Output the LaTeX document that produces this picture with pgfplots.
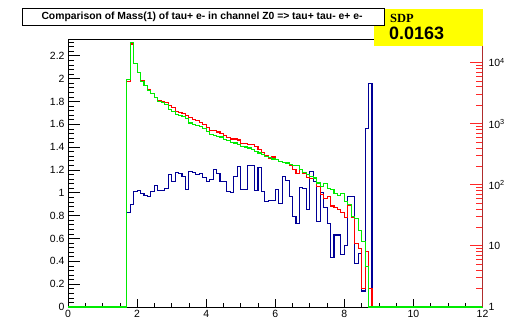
\documentclass[border=0pt]{standalone}
\usepackage{fontspec}
\setmainfont{Liberation Sans}
\newfontfamily\serifb{Liberation Serif}
\usepackage{pgfplots}
\pgfplotsset{compat=1.18}
\usepackage{pgfplotstable}

\definecolor{hred}{RGB}{255,0,0}
\definecolor{hgreen}{RGB}{0,235,0}
\definecolor{hblue}{RGB}{0,0,150}
\definecolor{axred}{RGB}{175,45,45}
\definecolor{tickred}{RGB}{255,40,40}
\definecolor{sdpyellow}{RGB}{255,255,0}

\pgfplotstableread{
x red green
0 1 1
1.7 4885 5260
1.8 20100 21500
1.9 9500 9630
2.0 6860 6780
2.1 5070 4940
2.2 4200 4200
2.3 3610 3515
2.4 3160 3100
2.5 2720 2640
2.6 2430 2320
2.7 2295 2235
2.8 2210 2050
2.9 1973 1700
3.0 1830 1590
3.1 1573 1405
3.2 1515 1352
3.3 1459 1288
3.4 1352 1194
3.5 1254 1026
3.6 1163 963
3.7 1120 927
3.8 1038 883
3.9 981 819
4.0 850 748
4.1 780 660
4.2 768 636
4.3 730 619
4.4 690 605
4.5 650 547
4.6 590 532
4.7 560 494
4.8 560 483
4.9 540 453
5.0 470 425
5.1 470 415
5.2 460 400
5.3 455 375
5.4 420 352
5.5 382 331
5.6 335 310
5.7 300 291
5.8 270 277
5.9 285 264
6.0 262 257
6.1 240 243
6.2 234 232
6.3 225 227
6.4 205 217
6.5 175 209
6.6 151 205
6.7 176 176
6.8 155 157
6.9 130 146
7.0 128 135
7.1 125 129
7.2 95 107
7.3 70 94
7.4 60 104
7.5 64 88
7.6 45 83
7.7 43 73
7.8 40 66
7.9 35 71
8.0 29 53
8.1 46 47
8.2 29 30
8.3 11 28
8.4 9 18
8.5 2 11.6
8.6 8 4.6
8.7 2 1
8.8 1 1
12 1 1
}\rgdata

\pgfplotstableread{
x blue
1.7 0
1.7 0.83
1.8 0.90
1.9 1.01
2.0 1.02
2.1 0.99
2.2 0.98
2.3 0.97
2.4 1.01
2.5 1.06
2.6 1.02
2.7 1.02
2.8 1.04
2.9 1.16
3.0 1.10
3.1 1.18
3.2 1.17
3.3 1.14
3.4 1.03
3.5 1.19
3.6 1.18
3.7 1.16
3.8 1.17
3.9 1.13
4.0 1.10
4.1 1.12
4.2 1.20
4.3 1.17
4.4 1.10
4.5 1.10
4.6 1.01
4.7 1.00
4.8 1.14
4.9 1.23
5.0 1.03
5.1 1.03
5.2 1.24
5.3 1.24
5.4 1.02
5.5 1.22
5.6 1.01
5.7 0.92
5.8 0.93
5.9 0.93
6.0 1.03
6.1 0.91
6.2 1.14
6.3 1.11
6.4 0.97
6.5 0.79
6.6 0.73
6.7 1.05
6.8 1.04
6.9 0.85
7.0 1.19
7.1 1.10
7.2 0.75
7.3 1.00
7.4 0.87
7.5 0.73
7.6 0.43
7.7 0.63
7.8 0.63
7.9 0.46
8.0 0.54
8.1 0.97
8.2 0.97
8.3 0.38
8.4 0.47
8.5 0.14
8.6 1.56
8.7 1.96
8.8 0
}\bdata

\pgfplotsset{
  rootframe/.style={
    at={(0,0)}, anchor=south west, scale only axis,
    width=414.5bp, height=267.5bp,
    xmin=0, xmax=12,
    axis line style={line width=0.8bp},
    tick label style={font=\fontsize{10.5}{12}\selectfont},
    every tick/.style={black, line width=0.6bp},
  },
}

\begin{document}
\begin{tikzpicture}
\path[use as bounding box] (-68bp,-14bp) rectangle (445bp,307bp);

% x axis
\begin{axis}[rootframe,
  ymin=0, ymax=2.342,
  xtick={0,2,4,6,8,10,12},
  xticklabels={0,2,4,6,8,10,12},
  minor xtick={0.5,1,1.5,2.5,3,3.5,4.5,5,5.5,6.5,7,7.5,8.5,9,9.5,10.5,11,11.5},
  xtick pos=bottom,
  ytick=\empty,
  major tick length=8bp, minor tick length=4bp]
\end{axis}

% left linear axis with blue histogram
\begin{axis}[rootframe,
  ymin=0, ymax=2.342,
  xtick=\empty,
  ytick={0,0.2,0.4,0.6,0.8,1,1.2,1.4,1.6,1.8,2,2.2},
  yticklabels={0,0.2,0.4,0.6,0.8,1,1.2,1.4,1.6,1.8,2,2.2},
  minor ytick={0.04,0.08,...,2.33},
  ytick pos=left,
  major tick length=12.4bp, minor tick length=6.2bp,
  clip=false]
\addplot[const plot mark left, hblue, line width=1.1bp] table[x=x,y=blue]{\bdata};
\end{axis}

% right log axis with red and green histograms
\begin{axis}[rootframe,
  ymode=log, ymin=1, ymax=23800,
  xtick=\empty,
  ytick={1,10,100,1000,10000},
  yticklabels={1,10,10\textsuperscript{2},10\textsuperscript{3},10\textsuperscript{4}},
  yticklabel style={xshift=2.5bp},
  minor ytick={2,3,4,5,6,7,8,9,20,30,40,50,60,70,80,90,200,300,400,500,600,700,800,900,2000,3000,4000,5000,6000,7000,8000,9000,20000},
  ytick pos=right, yticklabel pos=right,
  major tick length=12.5bp, minor tick length=6.5bp,
  every tick/.style={tickred, line width=0.8bp},
  clip=false]
\addplot[const plot mark left, hred, line width=1.1bp] table[x=x,y=red]{\rgdata};
\addplot[const plot mark left, hgreen, line width=1.1bp] table[x=x,y=green]{\rgdata};
\draw[axred, line width=1bp] (rel axis cs:1,0) -- (rel axis cs:1,1);
\end{axis}

% SDP box
\fill[sdpyellow] (306bp,261bp) rectangle (415.3bp,297.7bp);
\node[font=\serifb\bfseries\fontsize{12.5}{14}\selectfont, anchor=west, inner sep=0pt] at (322bp,289bp) {SDP};
\node[font=\bfseries\fontsize{18}{20}\selectfont, anchor=west, inner sep=0pt] at (321bp,273.5bp) {0.0163};

% title box
\draw[fill=white, line width=0.9bp] (-45.7bp,281.3bp) rectangle (316bp,298.7bp);
\node[font=\bfseries\fontsize{10.4}{12}\selectfont, inner sep=0pt] at (134bp,290bp) {Comparison of Mass(1) of tau+ e- in channel Z0 => tau+ tau- e+ e-};
\end{tikzpicture}
\end{document}
